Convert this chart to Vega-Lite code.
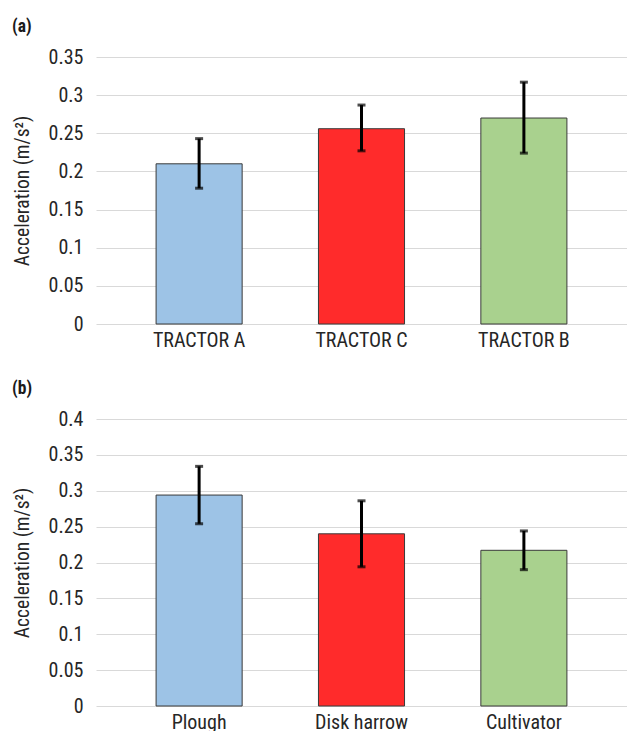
{
  "$schema": "https://vega.github.io/schema/vega-lite/v6.json",
  "padding": {"left": 12, "top": 17, "right": 0, "bottom": 0},
  "spacing": 29,
  "config": {
    "font": "Liberation Sans Narrow, Roboto Condensed, Arial Narrow, Liberation Sans, sans-serif",
    "view": {"stroke": null},
    "title": {"anchor": "start", "frame": "bounds", "fontSize": 17.5, "fontWeight": "bold", "color": "#1a1a1a", "offset": 12},
    "axisX": {"labelAngle": 0, "title": null, "ticks": false, "domain": false, "grid": false, "labelFontSize": 20, "labelColor": "#262626", "labelPadding": 6},
    "axisY": {"grid": true, "gridColor": "#d9d9d9", "gridWidth": 1.2, "domain": false, "ticks": false, "labelFontSize": 20, "labelColor": "#262626", "labelPadding": 13, "labelOverlap": false, "titleFontSize": 19.5, "titleFontWeight": "normal", "titleColor": "#262626", "titlePadding": 16, "format": ".2~f"},
    "scale": {"bandPaddingInner": 0.47, "bandPaddingOuter": 0.37}
  },
  "datasets": {
    "tractors": [
      {"name": "TRACTOR A", "mean": 0.210, "lo": 0.178, "hi": 0.243},
      {"name": "TRACTOR C", "mean": 0.256, "lo": 0.227, "hi": 0.287},
      {"name": "TRACTOR B", "mean": 0.270, "lo": 0.224, "hi": 0.317}
    ],
    "tools": [
      {"name": "Plough", "mean": 0.294, "lo": 0.254, "hi": 0.334},
      {"name": "Disk harrow", "mean": 0.240, "lo": 0.194, "hi": 0.286},
      {"name": "Cultivator", "mean": 0.217, "lo": 0.190, "hi": 0.244}
    ]
  },
  "vconcat": [
    {
      "title": "(a)",
      "width": 531,
      "height": 267,
      "data": {"name": "tractors"},
      "encoding": {
        "x": {"field": "name", "type": "nominal", "sort": null}
      },
      "layer": [
        {
          "mark": {"type": "bar", "stroke": "#3a3a3a", "strokeWidth": 1},
          "encoding": {
            "y": {"field": "mean", "type": "quantitative", "scale": {"domain": [0, 0.35], "nice": false}, "axis": {"values": [0, 0.05, 0.1, 0.15, 0.2, 0.25, 0.3, 0.35], "title": "Acceleration (m/s²)"}},
            "color": {"field": "name", "type": "nominal", "scale": {"domain": ["TRACTOR A", "TRACTOR C", "TRACTOR B"], "range": ["#9dc3e6", "#ff2b2b", "#a9d18e"]}, "legend": null}
          }
        },
        {
          "mark": {"type": "rule", "color": "black", "strokeWidth": 3},
          "encoding": {"y": {"field": "lo", "type": "quantitative", "scale": {"domain": [0, 0.35], "nice": false}, "axis": {"values": [0, 0.05, 0.1, 0.15, 0.2, 0.25, 0.3, 0.35], "title": "Acceleration (m/s²)"}}, "y2": {"field": "hi"}}
        },
        {
          "mark": {"type": "tick", "color": "black", "size": 8, "thickness": 3, "orient": "horizontal"},
          "encoding": {"y": {"field": "lo", "type": "quantitative", "scale": {"domain": [0, 0.35], "nice": false}, "axis": {"values": [0, 0.05, 0.1, 0.15, 0.2, 0.25, 0.3, 0.35], "title": "Acceleration (m/s²)"}}}
        },
        {
          "mark": {"type": "tick", "color": "black", "size": 8, "thickness": 3, "orient": "horizontal"},
          "encoding": {"y": {"field": "hi", "type": "quantitative", "scale": {"domain": [0, 0.35], "nice": false}, "axis": {"values": [0, 0.05, 0.1, 0.15, 0.2, 0.25, 0.3, 0.35], "title": "Acceleration (m/s²)"}}}
        }
      ]
    },
    {
      "title": "(b)",
      "width": 531,
      "height": 287,
      "data": {"name": "tools"},
      "encoding": {
        "x": {"field": "name", "type": "nominal", "sort": null}
      },
      "layer": [
        {
          "mark": {"type": "bar", "stroke": "#3a3a3a", "strokeWidth": 1},
          "encoding": {
            "y": {"field": "mean", "type": "quantitative", "scale": {"domain": [0, 0.4], "nice": false}, "axis": {"values": [0, 0.05, 0.1, 0.15, 0.2, 0.25, 0.3, 0.35, 0.4], "title": "Acceleration (m/s²)"}},
            "color": {"field": "name", "type": "nominal", "scale": {"domain": ["Plough", "Disk harrow", "Cultivator"], "range": ["#9dc3e6", "#ff2b2b", "#a9d18e"]}, "legend": null}
          }
        },
        {
          "mark": {"type": "rule", "color": "black", "strokeWidth": 3},
          "encoding": {"y": {"field": "lo", "type": "quantitative", "scale": {"domain": [0, 0.4], "nice": false}, "axis": {"values": [0, 0.05, 0.1, 0.15, 0.2, 0.25, 0.3, 0.35, 0.4], "title": "Acceleration (m/s²)"}}, "y2": {"field": "hi"}}
        },
        {
          "mark": {"type": "tick", "color": "black", "size": 8, "thickness": 3, "orient": "horizontal"},
          "encoding": {"y": {"field": "lo", "type": "quantitative", "scale": {"domain": [0, 0.4], "nice": false}, "axis": {"values": [0, 0.05, 0.1, 0.15, 0.2, 0.25, 0.3, 0.35, 0.4], "title": "Acceleration (m/s²)"}}}
        },
        {
          "mark": {"type": "tick", "color": "black", "size": 8, "thickness": 3, "orient": "horizontal"},
          "encoding": {"y": {"field": "hi", "type": "quantitative", "scale": {"domain": [0, 0.4], "nice": false}, "axis": {"values": [0, 0.05, 0.1, 0.15, 0.2, 0.25, 0.3, 0.35, 0.4], "title": "Acceleration (m/s²)"}}}
        }
      ]
    }
  ],
  "resolve": {"scale": {"color": "independent"}}
}
